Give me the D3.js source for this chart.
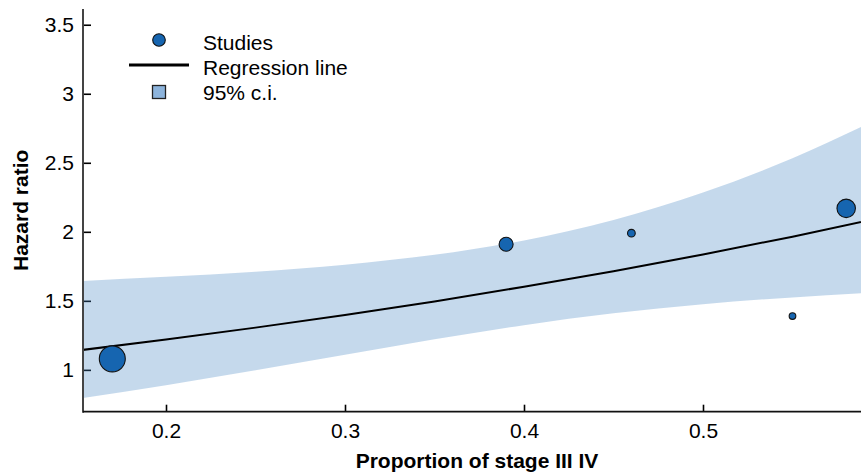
<!DOCTYPE html>
<html>
<head>
<meta charset="utf-8">
<script src="https://cdn.jsdelivr.net/npm/d3@7"></script>
<style>
  body { margin: 0; background: #fff; }
  svg { display: block; font-family: "Liberation Sans", Arial, sans-serif; }
</style>
</head>
<body>
<svg id="chart" width="861" height="473"></svg>
<script>
// studies (meta-regression)
const studyX = [0.17, 0.39, 0.46, 0.55, 0.58];
const studyHR = [1.08, 1.91, 1.99, 1.39, 2.17];
const studyWeight = [182, 53, 16, 12, 92];

// regression line and 95% c.i.
const fitX = [0.15, 0.2, 0.25, 0.3, 0.35, 0.4, 0.45, 0.5, 0.55, 0.6];
const fitHR = [1.139, 1.22, 1.306, 1.398, 1.496, 1.602, 1.715, 1.836, 1.965, 2.104];
const ciLow = [0.79, 0.889, 0.997, 1.109, 1.221, 1.324, 1.41, 1.476, 1.525, 1.563];
const ciHigh = [1.642, 1.674, 1.711, 1.762, 1.833, 1.938, 2.086, 2.285, 2.533, 2.832];

const xTicks = [0.2, 0.3, 0.4, 0.5];
const yTicks = [1, 1.5, 2, 2.5, 3, 3.5];

const legendLabels = ['Studies', 'Regression line', '95% c.i.'];

const svg = d3.select('#chart');
const width = 861, height = 473;
const margin = { top: 9, right: 0, bottom: 62, left: 83 };

const x = d3.scaleLinear()
  .domain([0.15363, 0.58827])
  .range([margin.left, width - margin.right]);

const y = d3.scaleLinear()
  .domain([0.697, 3.614])
  .range([height - margin.bottom + 0.7, margin.top]);

const r = d3.scaleSqrt()
  .domain([0, d3.max(studyWeight)])
  .range([0, 13]);

const fit = fitX.map((d, i) => ({ x: d, hr: fitHR[i], lo: ciLow[i], hi: ciHigh[i] }));
const studies = studyX.map((d, i) => ({ x: d, hr: studyHR[i], w: studyWeight[i] }));

svg.append('defs').append('clipPath').attr('id', 'plot-clip')
  .append('rect')
  .attr('x', margin.left)
  .attr('y', margin.top)
  .attr('width', width - margin.left - margin.right)
  .attr('height', y.range()[0] - margin.top);

// axes (ticks inward)
const xAxis = d3.axisBottom(x)
  .tickValues(xTicks)
  .tickSizeInner(-7)
  .tickSizeOuter(0)
  .tickPadding(11)
  .tickFormat(d3.format('.1f'));

const yAxis = d3.axisLeft(y)
  .tickValues(yTicks)
  .tickSizeInner(-8)
  .tickSizeOuter(0)
  .tickPadding(9)
  .tickFormat(d3.format('~g'));

const xAxisG = svg.append('g')
  .attr('transform', `translate(0,${y.range()[0]})`)
  .call(xAxis);

const yAxisG = svg.append('g')
  .attr('transform', `translate(${margin.left},0)`)
  .call(yAxis);

[xAxisG, yAxisG].forEach((g) => {
  g.selectAll('text').attr('font-size', 21).attr('fill', '#000')
    .attr('font-family', '"Liberation Sans", Arial, sans-serif');
  g.selectAll('.tick line').attr('stroke', '#000').attr('stroke-width', 1.6);
  g.select('.domain').remove();
});

const plot = svg.append('g').attr('clip-path', 'url(#plot-clip)');

// 95% c.i. band
plot.append('path')
  .datum(fit)
  .attr('fill', 'rgb(62,128,192)')
  .attr('fill-opacity', 0.3)
  .attr('d', d3.area()
    .curve(d3.curveMonotoneX)
    .x((d) => x(d.x))
    .y0((d) => y(d.lo))
    .y1((d) => y(d.hi)));

// regression line
plot.append('path')
  .datum(fit)
  .attr('fill', 'none')
  .attr('stroke', '#000')
  .attr('stroke-width', 2)
  .attr('d', d3.line()
    .curve(d3.curveMonotoneX)
    .x((d) => x(d.x))
    .y((d) => y(d.hr)));

// studies
svg.append('g')
  .selectAll('circle')
  .data(studies)
  .join('circle')
  .attr('cx', (d) => x(d.x))
  .attr('cy', (d) => y(d.hr))
  .attr('r', (d) => r(d.w))
  .attr('fill', '#1665b0')
  .attr('stroke', '#111')
  .attr('stroke-width', 1.1);

// axis lines
svg.append('line')
  .attr('x1', margin.left).attr('x2', margin.left)
  .attr('y1', margin.top).attr('y2', y.range()[0] + 1)
  .attr('stroke', '#444').attr('stroke-width', 2);
svg.append('line')
  .attr('x1', margin.left).attr('x2', width)
  .attr('y1', y.range()[0]).attr('y2', y.range()[0])
  .attr('stroke', '#111').attr('stroke-width', 1.8);

// axis titles
svg.append('text')
  .attr('x', 477)
  .attr('y', 468)
  .attr('text-anchor', 'middle')
  .attr('font-size', 21)
  .attr('font-weight', 'bold')
  .text('Proportion of stage III IV');

svg.append('text')
  .attr('transform', `translate(28,${(margin.top + y.range()[0]) / 2}) rotate(-90)`)
  .attr('text-anchor', 'middle')
  .attr('font-size', 21)
  .attr('font-weight', 'bold')
  .text('Hazard ratio');

// legend
const legend = svg.append('g').attr('transform', 'translate(159,0)');
legend.append('circle')
  .attr('cx', 0).attr('cy', 40).attr('r', 6.3)
  .attr('fill', '#1665b0').attr('stroke', '#111').attr('stroke-width', 1.1);
legend.append('line')
  .attr('x1', -30).attr('x2', 30).attr('y1', 65).attr('y2', 65)
  .attr('stroke', '#000').attr('stroke-width', 3);
legend.append('rect')
  .attr('x', -6.5).attr('y', 85.5).attr('width', 13).attr('height', 13)
  .attr('fill', '#8db4dc').attr('stroke', '#222').attr('stroke-width', 1.3);
legend.selectAll('text.lbl')
  .data(legendLabels)
  .join('text')
  .attr('class', 'lbl')
  .attr('x', 44)
  .attr('y', (d, i) => 49.5 + i * 25.3)
  .attr('font-size', 21)
  .text((d) => d);
</script>
</body>
</html>
